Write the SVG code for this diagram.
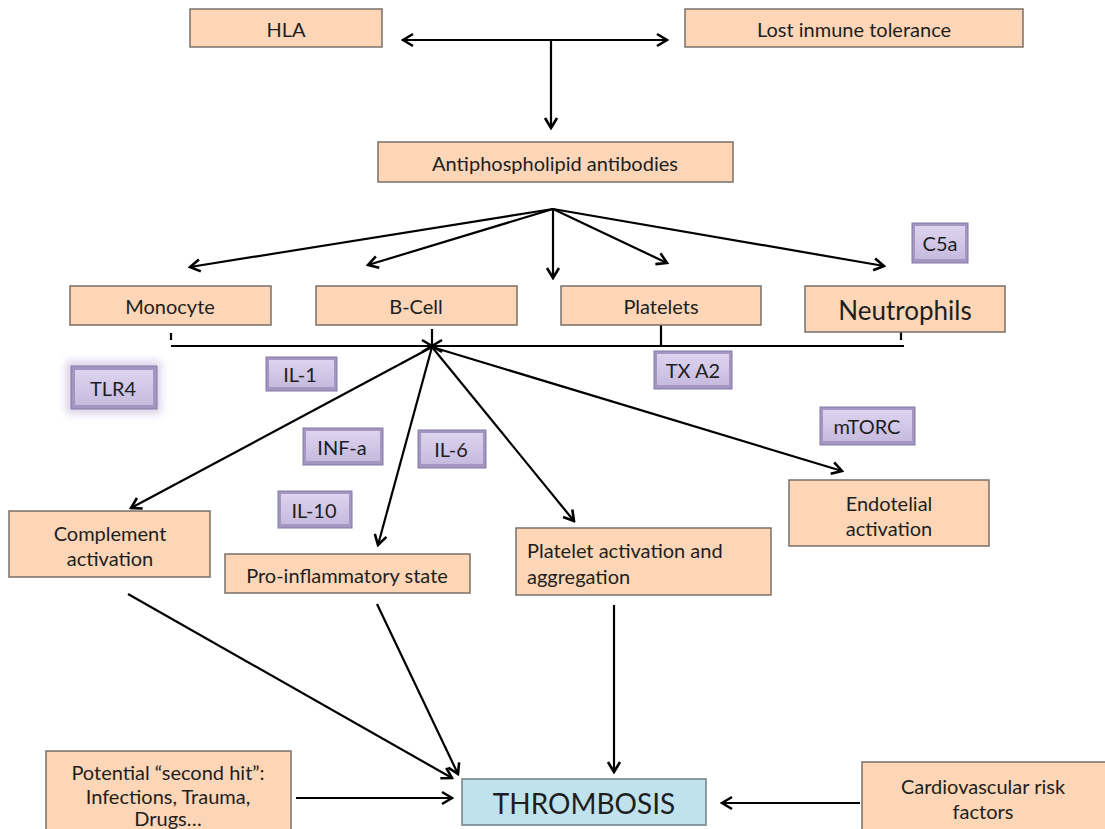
<svg xmlns="http://www.w3.org/2000/svg" width="1105" height="829" viewBox="0 0 1105 829">
<defs>
<marker id="ah" viewBox="-12 -8 14 16" refX="0" refY="0" markerWidth="14" markerHeight="16" markerUnits="userSpaceOnUse" orient="auto-start-reverse">
<path d="M-10,-6 L0,0 L-10,6" fill="none" stroke="#000" stroke-width="2.6"/>
</marker>
<linearGradient id="pg" x1="0" y1="0" x2="0" y2="1">
<stop offset="0" stop-color="#ddd4ef"/>
<stop offset="1" stop-color="#c6bade"/>
</linearGradient>
<filter id="glow" x="-30%" y="-30%" width="160%" height="160%">
<feGaussianBlur stdDeviation="4"/>
</filter>
</defs>
<style>
.box{fill:#fcd6b6;stroke:#7a7068;stroke-width:1.5}
.tb{fill:#bfe2ec;stroke:#6f7f86;stroke-width:1.5}
.pb{fill:#a397c2;stroke:#857aa6;stroke-width:1}
.pi{fill:url(#pg)}
.t{font-family:Lato,"Open Sans","Liberation Sans",sans-serif;font-size:20px;fill:#1e1e1e;text-anchor:middle;dominant-baseline:central}
.tl{text-anchor:start}
.big{font-size:26px}
.th{font-size:28px}
.c{fill:none;stroke:#000;stroke-width:2.2;marker-end:url(#ah)}
.l{fill:none;stroke:#000;stroke-width:2.2}
</style>
<rect width="1105" height="829" fill="#fff"/>

<g id="connectors">
<line class="c" x1="403" y1="40" x2="667" y2="40" style="marker-start:url(#ah)"/>
<line class="c" x1="551" y1="40" x2="551" y2="128"/>
<line class="c" x1="553" y1="209" x2="190" y2="267"/>
<line class="c" x1="553" y1="209" x2="368" y2="265"/>
<line class="c" x1="553" y1="209" x2="553" y2="278"/>
<line class="c" x1="553" y1="209" x2="667" y2="263"/>
<line class="c" x1="553" y1="209" x2="884" y2="266"/>
<line class="l" x1="171" y1="333" x2="171" y2="340"/>
<line class="l" x1="901" y1="332" x2="901" y2="340"/>
<line class="l" x1="661" y1="325" x2="661" y2="346"/>
<line class="l" x1="432" y1="329" x2="432" y2="347"/>
<line class="c" x1="171" y1="346" x2="432" y2="346"/>
<line class="c" x1="904" y1="346" x2="432" y2="346"/>
<line class="c" x1="432" y1="347" x2="131" y2="508"/>
<line class="c" x1="432" y1="347" x2="378" y2="545"/>
<line class="c" x1="432" y1="347" x2="574" y2="521"/>
<line class="c" x1="432" y1="347" x2="842" y2="471"/>
<line class="c" x1="128" y1="594" x2="452" y2="778"/>
<line class="c" x1="377" y1="604" x2="458" y2="774"/>
<line class="c" x1="614" y1="605" x2="614" y2="772"/>
<line class="c" x1="296" y1="798" x2="452" y2="798"/>
<line class="c" x1="860" y1="803" x2="722" y2="803"/>
</g>

<g id="hla"><rect class="box" x="190" y="9" width="192" height="38"/><text class="t" x="286" y="29">HLA</text></g>
<g id="tolerance"><rect class="box" x="685" y="9" width="338" height="38"/><text class="t" x="854" y="29">Lost inmune tolerance</text></g>
<g id="apl"><rect class="box" x="378" y="142" width="355" height="40"/><text class="t" x="555" y="163">Antiphospholipid antibodies</text></g>

<g id="monocyte"><rect class="box" x="70" y="286" width="201" height="39"/><text class="t" x="170" y="306">Monocyte</text></g>
<g id="bcell"><rect class="box" x="316" y="286" width="201" height="39"/><text class="t" x="416" y="306">B-Cell</text></g>
<g id="platelets"><rect class="box" x="561" y="286" width="200" height="39"/><text class="t" x="661" y="306">Platelets</text></g>
<g id="neutrophils"><rect class="box" x="805" y="286" width="200" height="46"/><text class="t big" x="905" y="310">Neutrophils</text></g>

<g id="c5a"><rect class="pb" x="912" y="223" width="56" height="40"/><rect class="pi" x="915" y="226" width="50" height="33"/><text class="t" x="940" y="243">C5a</text></g>
<g id="tlr4"><rect x="66" y="361" width="95" height="53" fill="#c9bfe0" opacity="0.7" filter="url(#glow)"/><rect class="pb" x="71" y="366" width="86" height="43"/><rect class="pi" x="75" y="370" width="78" height="35"/><text class="t" x="113" y="388">TLR4</text></g>
<g id="il1"><rect class="pb" x="266" y="357" width="71" height="34"/><rect class="pi" x="269" y="360" width="65" height="27"/><text class="t" x="300" y="374">IL-1</text></g>
<g id="txa2"><rect class="pb" x="654" y="351" width="78" height="38"/><rect class="pi" x="657" y="354" width="72" height="31"/><text class="t" x="693" y="370">TX A2</text></g>
<g id="mtorc"><rect class="pb" x="820" y="407" width="95" height="38"/><rect class="pi" x="823" y="410" width="89" height="31"/><text class="t" x="867" y="426">mTORC</text></g>
<g id="infa"><rect class="pb" x="303" y="428" width="80" height="37"/><rect class="pi" x="306" y="431" width="74" height="30"/><text class="t" x="342" y="447">INF-a</text></g>
<g id="il6"><rect class="pb" x="418" y="430" width="68" height="38"/><rect class="pi" x="421" y="433" width="62" height="31"/><text class="t" x="451" y="449">IL-6</text></g>
<g id="il10"><rect class="pb" x="278" y="491" width="74" height="37"/><rect class="pi" x="281" y="494" width="68" height="30"/><text class="t" x="314" y="510">IL-10</text></g>

<g id="complement"><rect class="box" x="9" y="511" width="201" height="66"/><text class="t" x="110" y="533">Complement</text><text class="t" x="110" y="558">activation</text></g>
<g id="proinflammatory"><rect class="box" x="225" y="554" width="245" height="39"/><text class="t" x="347" y="575">Pro-inflammatory state</text></g>
<g id="plateletact"><rect class="box" x="516" y="528" width="255" height="67"/><text class="t tl" x="527" y="550">Platelet activation and</text><text class="t tl" x="527" y="576">aggregation</text></g>
<g id="endotelial"><rect class="box" x="789" y="480" width="200" height="66"/><text class="t" x="889" y="503">Endotelial</text><text class="t" x="889" y="528">activation</text></g>

<g id="thrombosis"><rect class="tb" x="462" y="779" width="244" height="46"/><text class="t th" x="584" y="803">THROMBOSIS</text></g>
<g id="secondhit"><rect class="box" x="46" y="751" width="245" height="80"/><text class="t" x="168" y="772">Potential “second hit”:</text><text class="t" x="168" y="796">Infections, Trauma,</text><text class="t" x="168" y="818">Drugs…</text></g>
<g id="cvrisk"><rect class="box" x="862" y="762" width="245" height="69"/><text class="t" x="983" y="786">Cardiovascular risk</text><text class="t" x="983" y="811">factors</text></g>
</svg>
